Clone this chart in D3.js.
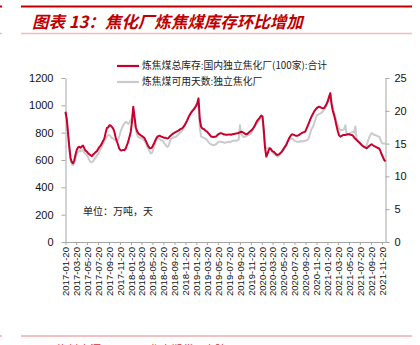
<!DOCTYPE html>
<html>
<head>
<meta charset="utf-8">
<script src="https://cdn.jsdelivr.net/npm/d3@7"></script>
<style>
  html, body { margin: 0; padding: 0; background: #fff; }
  svg { display: block; }
</style>
</head>
<body>
<svg id="chart" width="420" height="345"></svg>
<script>
// Weekly series starting 2017-01-20
const startDate = "2017-01-20";

// 炼焦煤总库存:国内独立焦化厂(100家):合计 (万吨)
const stockValues = [
  953, 900, 800, 700, 615, 585, 576, 598, 640, 675, 692, 697, 690, 700, 705, 685, 668, 662, 650, 642,
  635, 628, 640, 648, 658, 664, 680, 695, 705, 722, 740, 758, 800, 835, 838, 855, 852, 842, 830, 805,
  765, 735, 708, 680, 672, 670, 674, 672, 685, 708, 734, 770,
  805, 880, 990, 915, 840, 812, 795, 788, 780, 775, 768, 759, 740, 720, 700, 688, 686, 692, 712, 730,
  752, 768, 775, 778, 772, 770, 765, 762, 762, 758, 760, 772, 780, 788, 795, 800, 805, 810, 815, 822,
  828, 832, 842, 855, 872, 890, 912, 930, 945, 958, 968, 980,
  995, 1015, 1051, 900, 845, 830, 828, 820, 812, 806, 795, 784, 772, 770, 768, 770, 772, 782, 790, 795,
  796, 793, 788, 786, 784, 784, 786, 786, 785, 788, 790, 792, 794, 795, 798, 803, 807, 805, 798, 792,
  788, 792, 800, 808, 816, 825, 838, 855, 875, 890, 900, 913,
  925, 920, 820, 690, 625, 645, 675, 686, 675, 663, 660, 650, 640, 637, 642, 648, 658, 670, 685, 698,
  710, 735, 755, 772, 785, 788, 784, 780, 778, 778, 782, 790, 796, 800, 804, 807, 828, 850, 872, 895,
  917, 935, 952, 966, 978, 985, 990, 987, 982, 978, 980, 992,
  1010, 1030, 1060, 1088, 1010, 960, 930, 892, 848, 810, 780, 771, 776, 782, 783, 783, 786, 788, 788, 785,
  783, 778, 765, 755, 746, 738, 730, 720, 710, 702, 696, 690, 686, 694, 702, 710, 715, 708, 702, 697,
  692, 688, 684, 665, 640, 620, 600, 590
];

// 炼焦煤可用天数:独立焦化厂 (天)
const daysValues = [
  19.6, 18.5, 16.5, 14.3, 12.5, 11.9, 11.7, 12.0, 12.8, 13.4, 13.7, 13.9, 13.8, 14.0, 14.0, 13.6, 13.4, 13.3, 12.9, 12.5,
  12.2, 12.15, 12.3, 12.6, 12.9, 13.1, 13.4, 13.8, 14.2, 14.6, 15.0, 15.4, 15.8, 16.1, 16.3, 16.3, 16.1, 15.8, 15.8, 15.6,
  15.5, 15.4, 15.6, 16.2, 16.9, 17.4, 17.8, 18.1, 18.3, 18.2, 18.0, 18.2,
  18.6, 19.0, 20.1, 18.8, 17.2, 16.4, 16.0, 15.9, 15.8, 15.8, 15.6, 15.4, 15.1, 14.6, 14.2, 13.8, 13.5, 13.6, 14.2, 14.8,
  15.4, 15.8, 15.8, 15.7, 15.5, 15.5, 15.3, 15.0, 14.7, 14.5, 14.6, 15.2, 15.7, 15.8, 15.9, 16.0, 16.05, 16.2, 16.4, 16.6,
  16.8, 17.0, 17.4, 17.8, 18.2, 18.6, 19.0, 19.4, 19.7, 20.0, 20.2, 20.5,
  20.7, 20.9, 21.1, 17.5, 16.1, 16.0, 15.9, 15.8, 15.7, 15.5, 15.2, 15.0, 14.9, 14.8, 14.8, 14.8, 14.9, 15.1, 15.3, 15.3,
  15.3, 15.2, 15.2, 15.1, 15.2, 15.2, 15.3, 15.2, 15.3, 15.4, 15.4, 15.5, 15.4, 15.5, 15.6, 17.8, 16.4, 16.2, 16.0, 16.05,
  16.1, 16.3, 16.3, 16.4, 16.6, 17.0, 17.5, 17.7, 17.9, 18.2, 18.5, 18.8,
  19.1, 18.8, 16.5, 14.8, 14.3, 14.3, 14.4, 14.3, 14.0, 13.7, 13.5, 13.3, 13.2, 13.0, 13.1, 13.4, 13.6, 13.8, 14.1, 14.6,
  15.0, 15.3, 15.5, 15.7, 15.8, 15.7, 15.5, 15.4, 15.3, 15.3, 15.3, 15.3, 15.4, 15.3, 15.4, 15.4, 15.5, 15.6, 15.9, 16.6,
  17.2, 17.5, 18.0, 18.6, 19.2, 19.4, 19.5, 19.6, 19.7, 19.9, 20.2, 20.4,
  20.8, 21.4, 22.1, 22.7, 21.3, 20.5, 19.8, 19.0, 18.3, 17.8, 17.3, 17.1, 17.0, 17.1, 17.2, 17.8, 16.5, 16.4, 16.5, 16.6,
  16.7, 16.8, 16.7, 17.6, 15.7, 15.4, 15.1, 15.0, 14.8, 14.6, 14.5, 14.4, 14.7, 15.4, 15.9, 16.3, 16.6, 16.5, 16.3, 16.3,
  16.2, 16.1, 16.05, 15.6, 15.1, 15.0, 15.0, 15.05
];

const xTickLabels = [
  "2017-01-20", "2017-03-20", "2017-05-20", "2017-07-20", "2017-09-20", "2017-11-20",
  "2018-01-20", "2018-03-20", "2018-05-20", "2018-07-20", "2018-09-20", "2018-11-20",
  "2019-01-20", "2019-03-20", "2019-05-20", "2019-07-20", "2019-09-20", "2019-11-20",
  "2020-01-20", "2020-03-20", "2020-05-20", "2020-07-20", "2020-09-20", "2020-11-20",
  "2021-01-20", "2021-03-20", "2021-05-20", "2021-07-20", "2021-09-20", "2021-11-20"
];
const leftTicks = [0, 200, 400, 600, 800, 1000, 1200];
const rightTicks = [0, 5, 10, 15, 20, 25];

const seriesNames = ["炼焦煤总库存:国内独立焦化厂(100家):合计", "炼焦煤可用天数:独立焦化厂"];
const titleText = "图表 13：焦化厂炼焦煤库存环比增加";
const unitText = "单位：万吨，天";
const sourceText = "资料来源：Wind，华泰期货研究院";

const parse = d3.timeParse("%Y-%m-%d");
const t0 = parse(startDate);
const dates = stockValues.map((_, i) => d3.timeDay.offset(t0, 7 * i));

const svg = d3.select("#chart");
const M = { left: 65.5, right: 385.5, top: 78, bottom: 242 };

const x = d3.scaleTime().domain([t0, dates[dates.length - 1]]).range([M.left, M.right]);
const yL = d3.scaleLinear().domain([0, 1200]).range([M.bottom, M.top]);
const yR = d3.scaleLinear().domain([0, 25]).range([M.bottom, M.top]);

const red = "#c8002d";
const grey = "#cbcbcb";
const axisCol = "#a6a6a6";
const cjk = "'Noto Sans CJK SC', sans-serif";
const latin = "'Liberation Sans', Arial, sans-serif";

// header rules and title
svg.append("line").attr("x1", 0).attr("x2", 2).attr("y1", 6.5).attr("y2", 6.5)
  .attr("stroke", "#c00000").attr("stroke-width", 2);
svg.append("line").attr("x1", 21).attr("x2", 412).attr("y1", 6.5).attr("y2", 6.5)
  .attr("stroke", "#c00000").attr("stroke-width", 2);
svg.append("line").attr("x1", 0).attr("x2", 2).attr("y1", 33.5).attr("y2", 33.5)
  .attr("stroke", "#f2bcbc").attr("stroke-width", 1.5);
svg.append("line").attr("x1", 21).attr("x2", 412).attr("y1", 33.5).attr("y2", 33.5)
  .attr("stroke", "#f2bcbc").attr("stroke-width", 1.5);
svg.append("text").attr("x", 32).attr("y", 28)
  .attr("font-family", cjk).attr("font-size", 16.5).attr("font-weight", "bold")
  .attr("font-style", "italic").attr("fill", "#c00000")
  .text(titleText);

// footer rule and source
svg.append("line").attr("x1", 0).attr("x2", 2).attr("y1", 336).attr("y2", 336)
  .attr("stroke", "#e98585").attr("stroke-width", 1);
svg.append("line").attr("x1", 21).attr("x2", 412).attr("y1", 336).attr("y2", 336)
  .attr("stroke", "#e98585").attr("stroke-width", 1);
svg.append("text").attr("x", 57).attr("y", 354)
  .attr("font-family", cjk).attr("font-size", 11).attr("fill", "#d03030")
  .text(sourceText);

// axes
const xAxis = d3.axisBottom(x)
  .tickValues(xTickLabels.map(parse))
  .tickFormat(d3.timeFormat("%Y-%m-%d"))
  .tickSize(3).tickSizeOuter(0);
const gx = svg.append("g").attr("transform", `translate(0,${M.bottom})`).call(xAxis);
gx.select(".domain").attr("stroke", axisCol).attr("d", `M${M.left},0.5H${M.right}`);
gx.selectAll(".tick line").attr("stroke", axisCol);
gx.selectAll(".tick text")
  .attr("font-family", latin).attr("font-size", 9.6).attr("fill", "#111")
  .attr("transform", "rotate(-90)")
  .attr("text-anchor", "end")
  .attr("x", -5).attr("y", 0).attr("dy", "0.35em");

const gl = svg.append("g").attr("transform", `translate(${M.left},0)`)
  .call(d3.axisLeft(yL).tickValues(leftTicks).tickFormat(d3.format("d"))
    .tickSize(4).tickSizeOuter(0).tickPadding(8));
gl.select(".domain").attr("stroke", axisCol);
gl.selectAll(".tick line").attr("stroke", axisCol);
gl.selectAll(".tick text").attr("font-family", latin).attr("font-size", 11).attr("fill", "#111");

const gr = svg.append("g").attr("transform", `translate(${M.right},0)`)
  .call(d3.axisRight(yR).tickValues(rightTicks).tickFormat(d3.format("d"))
    .tickSize(4).tickSizeOuter(0).tickPadding(5));
gr.select(".domain").attr("stroke", axisCol);
gr.selectAll(".tick line").attr("stroke", axisCol);
gr.selectAll(".tick text").attr("font-family", latin).attr("font-size", 11).attr("fill", "#111");

// series
const lineDays = d3.line().x((d, i) => x(dates[i])).y(d => yR(d));
const lineStock = d3.line().x((d, i) => x(dates[i])).y(d => yL(d));

svg.append("path").datum(daysValues).attr("d", lineDays)
  .attr("fill", "none").attr("stroke", grey).attr("stroke-width", 2).attr("stroke-linejoin", "round");
svg.append("path").datum(stockValues).attr("d", lineStock)
  .attr("fill", "none").attr("stroke", red).attr("stroke-width", 2).attr("stroke-linejoin", "round");

// legend
const legend = svg.append("g");
[[red, 66], [grey, 82]].forEach(([c, y], i) => {
  legend.append("line").attr("x1", 117).attr("x2", 139).attr("y1", y).attr("y2", y)
    .attr("stroke", c).attr("stroke-width", 2.2);
  legend.append("text").attr("x", 142).attr("y", y).attr("dy", "0.35em")
    .attr("font-family", cjk).attr("font-size", 9.8).attr("fill", "#222")
    .text(seriesNames[i]);
});

// unit note
svg.append("text").attr("x", 83).attr("y", 211).attr("dy", "0.35em")
  .attr("font-family", cjk).attr("font-size", 10).attr("fill", "#222")
  .text(unitText);
</script>
</body>
</html>
